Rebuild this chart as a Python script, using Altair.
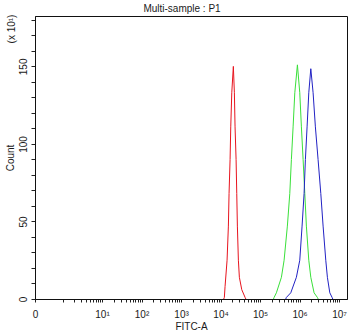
import math

import altair as alt
import pandas as pd

# FITC-A intensity in decades (log10 of fluorescence); count in units of 10 events
red_log = [4.08, 4.096, 4.114, 4.165, 4.198, 4.215, 4.241, 4.258, 4.284, 4.324,
           4.350, 4.367, 4.393, 4.410, 4.426, 4.451, 4.476, 4.537, 4.621, 4.64]
red_count = [0, 1, 8, 25, 47, 68, 90, 111, 133, 150,
             133, 111, 90, 68, 47, 25, 14, 6, 1, 0]

green_log = [5.34, 5.355, 5.413, 5.540, 5.608, 5.691, 5.752, 5.793, 5.836, 5.879,
             5.945, 6.005, 6.046, 6.089, 6.132, 6.172, 6.233, 6.284, 6.367, 6.451, 6.47]
green_count = [0, 1, 4, 14, 25, 47, 68, 90, 111, 133,
               151, 133, 111, 90, 68, 47, 25, 14, 4, 1, 0]

blue_log = [5.65, 5.666, 5.777, 5.919, 6.005, 6.063, 6.114, 6.147, 6.190, 6.233,
            6.284, 6.342, 6.400, 6.468, 6.537, 6.595, 6.663, 6.704, 6.765, 6.823, 6.84]
blue_count = [0, 1, 4, 14, 25, 47, 68, 90, 111, 133,
              148.5, 133, 111, 90, 68, 47, 25, 14, 4, 1, 0]

series_names = ["red", "green", "blue"]
series_colors = ["#e8141e", "#3ae03a", "#2222c4"]

X_MIN, X_MAX = -0.696, 7.2
Y_MAX = 182.5

rows = []
for name, xs, ys in [("red", red_log, red_count),
                     ("green", green_log, green_count),
                     ("blue", blue_log, blue_count)]:
    for xv, yv in zip(xs, ys):
        rows.append({"sample": name, "fitc": xv, "count": yv})
df = pd.DataFrame(rows)

# axis ticks: the zero mark, then 1..9 x 10^k per decade
x_ticks = [X_MIN]
for k in range(0, 8):
    for m in range(1, 10):
        v = k + math.log10(m)
        if v <= X_MAX:
            x_ticks.append(round(v, 6))

x_label_expr = (
    "datum.value < 0 ? '0' : "
    "(abs(datum.value - round(datum.value)) < 1e-6 && datum.value >= 1 ? "
    "'10' + ['⁰','¹','²','³','⁴','⁵','⁶','⁷'][round(datum.value)] : '')"
)

FONT = "Liberation Sans"
TEXT = "#1a1a1a"

lines = alt.Chart(df).mark_line(strokeWidth=1, clip=True).encode(
    x=alt.X(
        "fitc:Q",
        scale=alt.Scale(domain=[X_MIN, X_MAX], nice=False, zero=False),
        axis=alt.Axis(
            values=x_ticks,
            labelExpr=x_label_expr,
            labelOverlap=False,
            labelFlush=False,
            grid=False,
            tickSize=3,
            labelPadding=15,
            labelBaseline="alphabetic",
            title="FITC-A",
            titleY=30,
            titleBaseline="alphabetic",
        ),
    ),
    y=alt.Y(
        "count:Q",
        scale=alt.Scale(domain=[0, Y_MAX], nice=False),
        axis=alt.Axis(
            values=list(range(0, 190, 10)),
            labelExpr="datum.value % 50 == 0 ? datum.label : ''",
            labelOverlap=False,
            labelFlush=False,
            labelAngle=270,
            labelAlign="center",
            labelBaseline="alphabetic",
            labelPadding=5,
            tickSize=4,
            grid=False,
            title="Count",
            titleAngle=270,
            titleAlign="center",
            titleBaseline="alphabetic",
            titleX=-21.7,
            titleY=141.5,
        ),
    ),
    color=alt.Color(
        "sample:N",
        scale=alt.Scale(domain=series_names, range=series_colors),
        legend=None,
    ),
    detail="sample:N",
)

# exponent note beside the count axis
scale_note = alt.Chart(pd.DataFrame({"t": ["(x 10¹)"]})).mark_text(
    angle=270, align="center", baseline="alphabetic", fontSize=10, font=FONT, color=TEXT
).encode(text="t:N", x=alt.value(-20.5), y=alt.value(13))

# heading above the plot frame
heading = alt.Chart(pd.DataFrame({"t": ["Multi-sample : P1"]})).mark_text(
    align="center", baseline="alphabetic", fontSize=10, font=FONT, color=TEXT
).encode(text="t:N", x=alt.value(147), y=alt.value(-4.5))

chart = (
    alt.layer(lines, scale_note, heading)
    .properties(
        width=312,
        height=283,
        padding={"left": 35, "top": 16, "right": 3, "bottom": 33},
        autosize=alt.AutoSizeParams(type="none"),
    )
    .configure(font=FONT, background="white")
    .configure_view(stroke="#111", strokeWidth=1)
    .configure_axis(
        domainColor="#111",
        tickColor="#222",
        labelColor=TEXT,
        titleColor=TEXT,
        labelFont=FONT,
        titleFont=FONT,
        labelFontSize=10,
        titleFontSize=10,
        titleFontWeight="normal",
    )
)

chart.save("out.html", embed_options={"renderer": "svg", "actions": False})
